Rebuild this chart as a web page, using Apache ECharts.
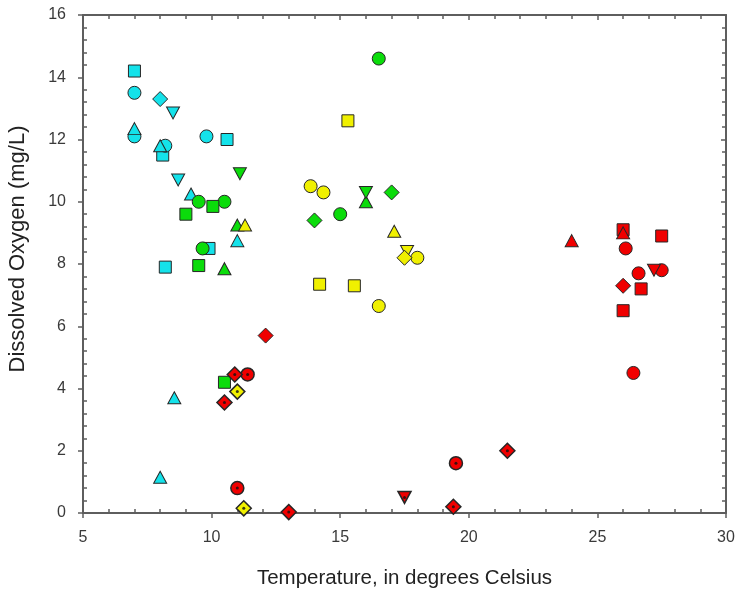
<!DOCTYPE html>
<html>
<head>
<meta charset="utf-8">
<script src="https://cdn.jsdelivr.net/npm/echarts@6/dist/echarts.min.js"></script>
<style>
    html, body { margin: 0; padding: 0; background: #fff; }
    #chart { width: 737px; height: 599px; }
</style>
</head>
<body>
<div id="chart"></div>
<script>
    // 数据 (温度, 溶解氧)
    var cyanSquare  = [[7.0, 14.2], [10.6, 12.0], [8.1, 11.5], [9.9, 8.5], [8.2, 7.9]];
    var cyanCircle  = [[7.0, 13.5], [7.0, 12.1], [9.8, 12.1], [8.2, 11.8]];
    var cyanDiamond = [[8.0, 13.3]];
    var cyanDown    = [[8.5, 12.85], [8.7, 10.7]];
    var cyanUp      = [[7.0, 12.35], [8.0, 11.8], [9.2, 10.25], [11.0, 8.75], [8.55, 3.7], [8.0, 1.15]];

    var greenCircle  = [[16.5, 14.6], [9.5, 10.0], [10.5, 10.0], [9.65, 8.5], [15.0, 9.6]];
    var greenSquare  = [[10.05, 9.85], [9.0, 9.6], [9.5, 7.95], [10.5, 4.2]];
    var greenUp      = [[11.0, 9.25], [10.5, 7.85], [16.0, 10.0]];
    var greenDown    = [[11.1, 10.9], [16.0, 10.3]];
    var greenDiamond = [[17.0, 10.3], [14.0, 9.4]];

    var yellowSquare     = [[15.3, 12.6], [14.2, 7.35], [15.55, 7.3]];
    var yellowCircle     = [[13.85, 10.5], [14.35, 10.3], [18.0, 8.2], [16.5, 6.65]];
    var yellowUp         = [[11.3, 9.25], [17.1, 9.05]];
    var yellowDown       = [[17.6, 8.4]];
    var yellowDiamond    = [[17.5, 8.2]];
    var yellowDiamondDot = [[11.0, 3.9], [11.25, 0.15]];

    var redSquare     = [[26.0, 9.1], [27.5, 8.9], [26.7, 7.2], [26.0, 6.5]];
    var redUp         = [[24.0, 8.75], [26.0, 9.0]];
    var redCircle     = [[26.1, 8.5], [26.6, 7.7], [27.5, 7.8], [26.4, 4.5]];
    var redDown       = [[27.2, 7.8]];
    var redDiamond    = [[26.0, 7.3], [12.1, 5.7]];
    var redCircleDot  = [[11.4, 4.45], [11.0, 0.8], [19.5, 1.6]];
    var redDiamondDot = [[10.9, 4.45], [10.5, 3.55], [13.0, 0.03], [21.5, 2.0], [19.4, 0.2]];
    var redDownDot    = [[17.5, 0.5]];

    var xTicks = [5, 10, 15, 20, 25, 30];
    var yTicks = [0, 2, 4, 6, 8, 10, 12, 14, 16];

    var FONT = "'Liberation Sans', Arial, sans-serif";
    var AXIS_COLOR = '#5e5e5e';
    var COLORS = { cyan: '#14e2ea', green: '#0bdc0b', yellow: '#f0f000', red: '#f00000' };
    var SHAPES = {
        circle:  { symbol: 'circle', size: 13 },
        square:  { symbol: 'rect', size: 12 },
        up:      { symbol: 'triangle', size: [13, 12] },
        down:    { symbol: 'path://M0,0L2,0L1,1.8Z', size: [13, 12] },
        diamond: { symbol: 'diamond', size: 15 }
    };

    var groups = [
        ['cyan', 'square', cyanSquare], ['cyan', 'circle', cyanCircle], ['cyan', 'diamond', cyanDiamond],
        ['cyan', 'down', cyanDown], ['cyan', 'up', cyanUp],
        ['green', 'circle', greenCircle], ['green', 'square', greenSquare], ['green', 'up', greenUp],
        ['green', 'down', greenDown], ['green', 'diamond', greenDiamond],
        ['yellow', 'square', yellowSquare], ['yellow', 'circle', yellowCircle], ['yellow', 'up', yellowUp],
        ['yellow', 'down', yellowDown], ['yellow', 'diamond', yellowDiamond], ['yellow', 'diamond', yellowDiamondDot, true],
        ['red', 'square', redSquare], ['red', 'up', redUp], ['red', 'circle', redCircle],
        ['red', 'down', redDown], ['red', 'diamond', redDiamond],
        ['red', 'circle', redCircleDot, true], ['red', 'diamond', redDiamondDot, true], ['red', 'down', redDownDot, true]
    ];

    var series = [];
    groups.forEach(function(g){
        var shape = SHAPES[g[1]];
        series.push({
            type: 'scatter',
            xAxisIndex: 0,
            yAxisIndex: 0,
            data: g[2],
            symbol: shape.symbol,
            symbolSize: shape.size,
            itemStyle: { color: COLORS[g[0]], borderColor: '#262626', borderWidth: g[3] ? 1.5 : 1, opacity: 1 },
            emphasis: { disabled: true },
            z: 3
        });
        if(g[3]){
            // 中心黑点
            series.push({
                type: 'scatter',
                xAxisIndex: 0,
                yAxisIndex: 0,
                data: g[2],
                symbol: 'circle',
                symbolSize: 3,
                itemStyle: { color: '#111' },
                emphasis: { disabled: true },
                z: 4
            });
        }
    });

    function xAxis(pos, main, minor){
        return {
            type: 'value', position: pos, min: xTicks[0], max: xTicks[xTicks.length - 1], interval: 5,
            axisLine: { show: main || pos === 'top', onZero: false, lineStyle: { color: AXIS_COLOR, width: 2 } },
            axisTick: { show: main || pos === 'top', inside: !main, length: 5, lineStyle: { color: AXIS_COLOR, width: 1.5 } },
            minorTick: { show: minor, splitNumber: 5, length: 4, lineStyle: { color: AXIS_COLOR, width: 1.5 } },
            axisLabel: { show: main, fontSize: 16, color: '#3a3a3a', fontFamily: FONT, margin: 17 },
            splitLine: { show: false },
            name: main ? 'Temperature, in degrees Celsius' : '',
            nameLocation: 'middle',
            nameGap: 55,
            nameTextStyle: { fontSize: 20.5, color: '#222', fontFamily: FONT }
        };
    }
    function yAxis(pos, main, minor){
        return {
            type: 'value', position: pos, min: yTicks[0], max: yTicks[yTicks.length - 1], interval: 2,
            axisLine: { show: main || pos === 'right', onZero: false, lineStyle: { color: AXIS_COLOR, width: 2 } },
            axisTick: { show: main || pos === 'right', inside: !main, length: 5, lineStyle: { color: AXIS_COLOR, width: 1.5 } },
            minorTick: { show: minor, splitNumber: 5, length: 4, lineStyle: { color: AXIS_COLOR, width: 1.5 } },
            axisLabel: { show: main, fontSize: 16, color: '#3a3a3a', fontFamily: FONT, margin: 17 },
            splitLine: { show: false },
            name: main ? 'Dissolved Oxygen (mg/L)' : '',
            nameLocation: 'middle',
            nameGap: 54,
            nameTextStyle: { fontSize: 22, color: '#222', fontFamily: FONT, padding: [0, 0, 0, 30] }
        };
    }

    var myChart = echarts.init(document.getElementById('chart'), null, { renderer: 'canvas' });
    var option = {
        animation: false,
        backgroundColor: '#fff',
        grid: { left: 83, right: 11, top: 15, bottom: 86, containLabel: false, outerBoundsMode: 'none' },
        xAxis: [xAxis('bottom', true, false), xAxis('bottom', false, true), xAxis('top', false, true)],
        yAxis: [yAxis('left', true, false), yAxis('left', false, true), yAxis('right', false, true)],
        series: series
    };
    myChart.setOption(option);
</script>
</body>
</html>
